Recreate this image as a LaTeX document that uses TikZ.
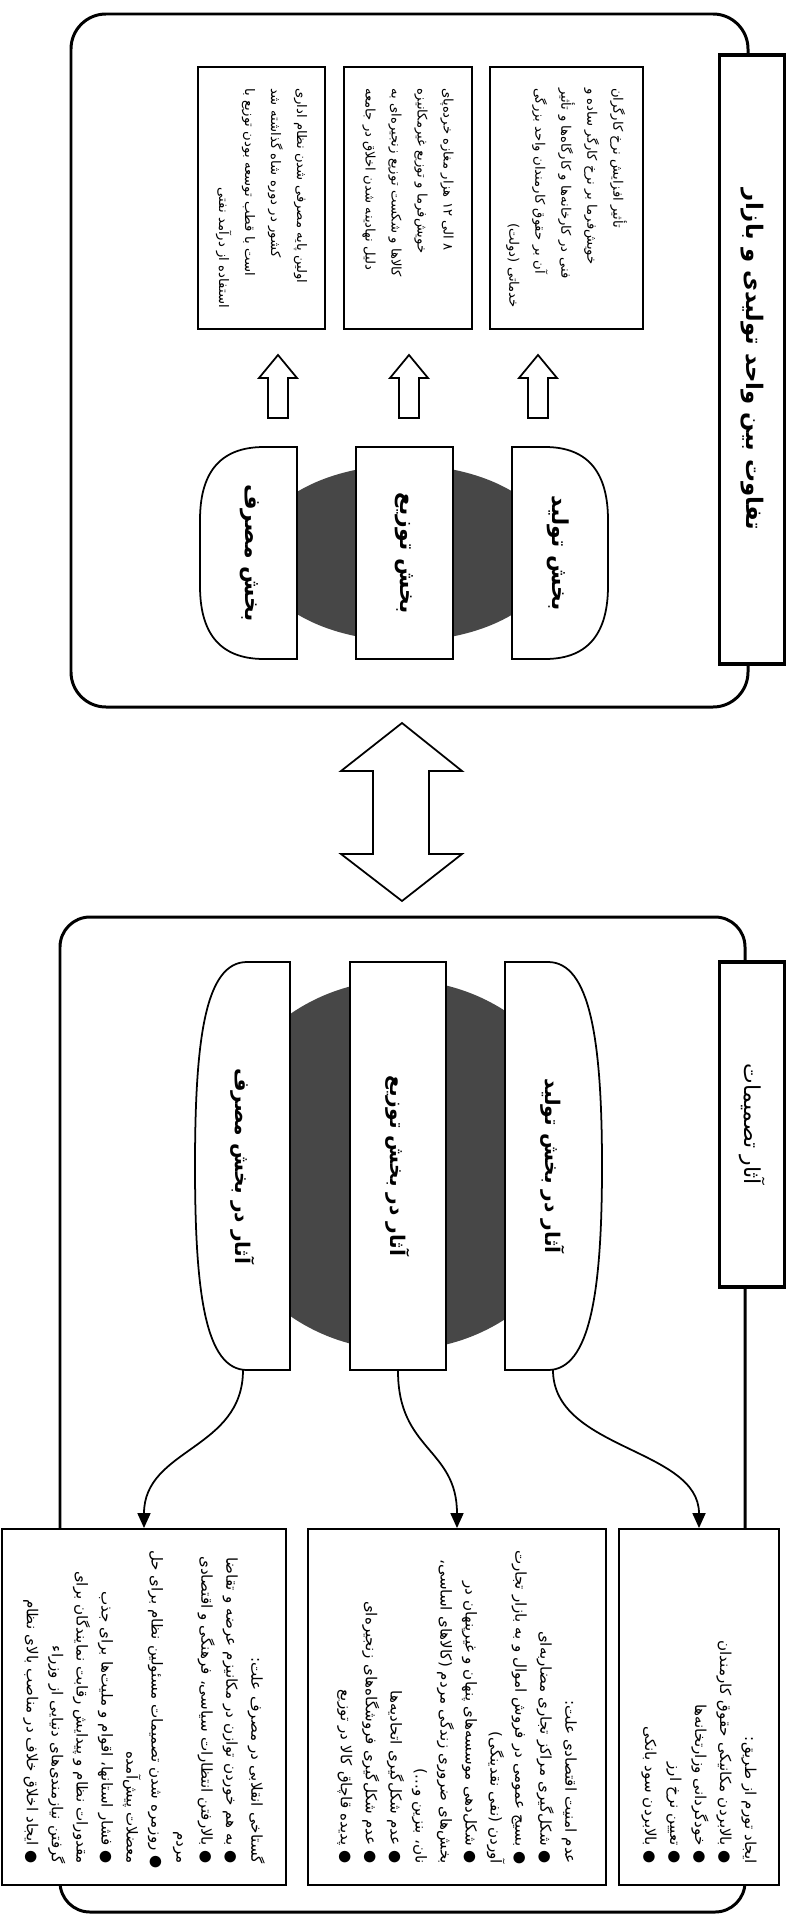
\documentclass[tikz,border=0pt]{standalone}
\usepackage{fontspec}
\usetikzlibrary{arrows.meta}
\newfontfamily\persianfont[Script=Arabic]{DejaVu Sans}
\TeXXeTstate=1
\newcommand{\rtlline}[1]{\mbox{\beginR #1\endR}}
\newcommand{\fullline}[1]{\makebox[\hsize][s]{\beginR #1\endR}}

\begin{document}
\begin{tikzpicture}[
    x=0.02cm, y=0.02cm,
    frame/.style={draw, line width=1.7pt, rounded corners=0.7cm},
    titlebox/.style={draw, line width=2.2pt, fill=white, inner sep=0pt},
    topbox/.style={draw, line width=1.1pt, fill=white, align=right, inner xsep=0.42cm, inner ysep=0pt,
        text width=4.4cm, font=\persianfont\fontsize{7.5}{14.8}\selectfont},
    lowbox/.style={draw, line width=1.1pt, fill=white, align=right, inner xsep=0.42cm, inner ysep=0pt,
        text width=6.28cm, font=\persianfont\fontsize{8.6}{14.2}\selectfont},
    part/.style={draw, line width=1pt, fill=white},
    lbl/.style={font=\persianfont\bfseries\fontsize{12.5}{15}\selectfont},
    lbltwo/.style={font=\persianfont\bfseries\fontsize{11.5}{14}\selectfont},
    shade/.style={fill=black!72},
    blockarrow/.style={draw, line width=1pt, fill=white},
    link/.style={line width=1pt, -{Triangle[length=0.3cm, width=0.26cm]}}
]
\begin{scope}[rotate=-90, transform shape]
    \useasboundingbox (0,0) rectangle (1916,789);

    % the two frames
    \draw[frame] (14,71) rectangle (707,748);
    \draw[frame, rounded corners=0.6cm] (917,60) rectangle (1912,745);

    \node[titlebox, minimum width=12.18cm, minimum height=1.3cm,
        font=\persianfont\bfseries\fontsize{13}{15}\selectfont] (diffTitle) at (359.5,752)
        {\rtlline{تفاوت بین واحد تولیدی و بازار}};
    \node[titlebox, minimum width=6.5cm, minimum height=1.3cm,
        font=\persianfont\fontsize{12.5}{14}\selectfont] (effTitle) at (1124.5,752)
        {\rtlline{آثار تصمیمات}};

    % upper frame: the three parts
    \fill[shade] (553,405) ellipse [x radius=88, y radius=150];
    \draw[part] (447,512) -- (447,545) .. controls (447,590) and (475,608) .. (520,608) -- (586,608)
        .. controls (631,608) and (659,590) .. (659,545) -- (659,512) -- cycle;
    \node[lbl] (prodD) at (553,558) {\rtlline{بخش تولید}};
    \node[part, lbl, minimum width=4.24cm, minimum height=1.94cm] (distD) at (553,404.5) {\rtlline{بخش توزیع}};
    \draw[part] (447,297) -- (447,264) .. controls (447,218) and (475,200) .. (520,200) -- (586,200)
        .. controls (631,200) and (659,218) .. (659,264) -- (659,297) -- cycle;
    \node[lbl] (consD) at (553,250) {\rtlline{بخش مصرف}};

    \foreach \ay in {278,409,538} {
        \draw[blockarrow] (355,\ay) -- (378,\ay+19) -- (378,\ay+10) -- (418,\ay+10)
            -- (418,\ay-10) -- (378,\ay-10) -- (378,\ay-19) -- cycle;
    }

    \node[topbox, minimum height=3.06cm] (wageBox) at (198,566.5) {%
        \fullline{تأثیر افزایش نرخ کارگران}\\
        \fullline{خویش‌فرما بر نرخ کارگر ساده و}\\
        \fullline{فنی در کارخانه‌ها و کارگاه‌ها و تأثیر}\\
        \fullline{آن بر حقوق کارمندان واحد بزرگی}\\
        \rtlline{خدماتی (دولت)}};
    \node[topbox, minimum height=2.56cm] (shopBox) at (198,408) {%
        \fullline{۸ الی ۱۲ هزار مغازه خرده‌پای}\\
        \fullline{خویش‌فرما و توزیع غیرمکانیزه}\\
        \fullline{کالاها و شکست توزیع زنجیره‌ای به}\\
        \fullline{دلیل نهادینه شدن اخلاق در جامعه}};
    \node[topbox, minimum height=2.54cm] (adminBox) at (198,261.5) {%
        \fullline{اولین پایه مصرفی شدن نظام اداری}\\
        \fullline{کشور در دوره شاه گذاشته شد}\\
        \fullline{است با قطب توسعه بودن توزیع با}\\
        \rtlline{استفاده از درآمد نفتی}};

    % double arrow between the frames
    \draw[blockarrow] (723,402) -- (771,462) -- (771,429) -- (854,429) -- (854,462) -- (901,402)
        -- (854,341) -- (854,373) -- (771,373) -- (771,341) -- cycle;

    % lower frame: effects of the decisions
    \fill[shade] (1165,400) ellipse [x radius=185, y radius=190];
    \draw[part] (962,505) -- (962,548) .. controls (962,590) and (1040,602) .. (1166,602)
        .. controls (1292,602) and (1370,590) .. (1370,548) -- (1370,505) -- cycle;
    \node[lbltwo] (prodE) at (1166,553) {\rtlline{آثار در بخش تولید}};
    \node[part, lbltwo, minimum width=8.16cm, minimum height=1.92cm] (distE) at (1166,398) {\rtlline{آثار در بخش توزیع}};
    \draw[part] (962,290) -- (962,247) .. controls (962,205) and (1040,195) .. (1166,195)
        .. controls (1292,195) and (1370,205) .. (1370,247) -- (1370,290) -- cycle;
    \node[lbltwo] (consE) at (1166,243) {\rtlline{آثار در بخش مصرف}};
    \coordinate (prodEnd) at (1370,553);
    \coordinate (consEnd) at (1370,243);

    \node[lowbox, minimum height=3.2cm] (infBox) at (1707,699) {%
        \rtlline{ایجاد تورم از طریق:}\\
        \rtlline{● بالابردن مکانیکی حقوق کارمندان}\\
        \rtlline{● خودگردانی وزارتخانه‌ها}\\
        \rtlline{● تعیین نرخ ارز}\\
        \rtlline{● بالابردن سود بانکی}};
    \node[lowbox, minimum height=5.96cm] (secBox) at (1707,457) {%
        \rtlline{عدم امنیت اقتصادی علت:}\\
        \rtlline{● شکل‌گیری مراکز تجاری مضاربه‌ای}\\
        \rtlline{● بسیج عمومی در فروش اموال و به بازار تجارت}\\
        \rtlline{آوردن (نفی نقدینگی)}\\
        \rtlline{● شکل‌دهی موسسه‌های پنهان و غیرپنهان در}\\
        \rtlline{بخش‌های ضروری زندگی مردم (کالاهای اساسی،}\\
        \rtlline{نان، بنزین و...)}\\
        \rtlline{● عدم شکل‌گیری اتحادیه‌ها}\\
        \rtlline{● عدم شکل‌گیری فروشگاه‌های زنجیره‌ای}\\
        \rtlline{● پدیده قاچاق کالا در توزیع}};
    \node[lowbox, minimum height=5.68cm] (rudeBox) at (1707,144) {%
        \rtlline{گستاخی انقلابی در مصرف علت:}\\
        \rtlline{● به هم خوردن توازن در مکانیزم عرضه و تقاضا}\\
        \rtlline{● بالارفتن انتظارات سیاسی، فرهنگی و اقتصادی}\\
        \rtlline{مردم}\\
        \rtlline{● روزمره شدن تصمیمات مسئولین نظام برای حل}\\
        \rtlline{معضلات پیش‌آمده}\\
        \rtlline{● فشار استانها، اقوام و ملیت‌ها برای جذب}\\
        \rtlline{مقدورات نظام و پیدایش رقابت نمایندگان برای}\\
        \rtlline{گرفتن نیازمندی‌های دنیایی از وزراء}\\
        \rtlline{● ایجاد اخلاق خلاف در مناصب بالای نظام}};

    \draw[link] (prodEnd) .. controls +(80,0) and +(-80,0) .. (infBox.west);
    \draw[link] (distE.east) .. controls +(80,0) and +(-80,0) .. (secBox.west);
    \draw[link] (consEnd) .. controls +(80,0) and +(-80,0) .. (rudeBox.west);
\end{scope}
\end{tikzpicture}
\end{document}
